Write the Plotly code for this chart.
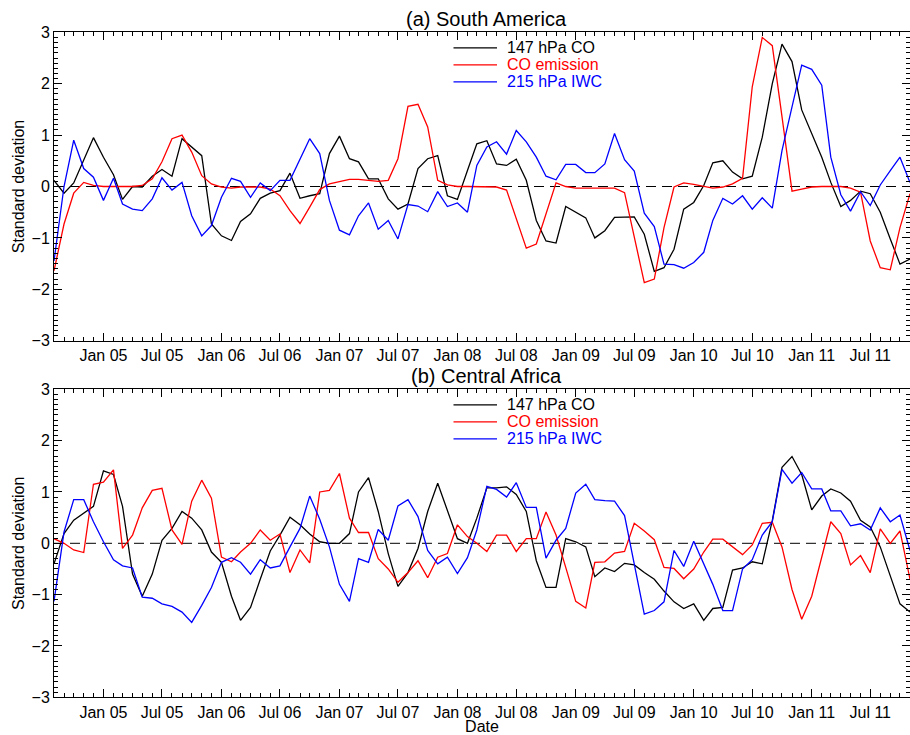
import pandas as pd
import plotly.graph_objects as go

# ---------------- data (monthly, Aug 2004 - Nov 2011) ----------------
start_month = "2004-08-01"
n_months = 88
dates = pd.date_range(start_month, periods=n_months, freq="MS")

series_names = ["147 hPa CO", "CO emission", "215 hPa IWC"]
series_colors = ["#000000", "#ff0000", "#0000ff"]

# (a) South America
sa_co147 = [0.12, -0.13, 0.07, 0.5, 0.95, 0.57, 0.23, -0.25, 0.0, -0.01, 0.2, 0.33, 0.2, 0.93, 0.77, 0.6,
            -0.73, -0.96, -1.05, -0.68, -0.53, -0.23, -0.13, -0.08, 0.26, -0.23, -0.18, -0.14, 0.64, 0.98,
            0.54, 0.48, 0.15, 0.15, -0.24, -0.44, -0.34, 0.35, 0.54, 0.6, -0.18, -0.25, 0.31, 0.83, 0.89,
            0.44, 0.41, 0.53, 0.12, -0.66, -1.06, -1.1, -0.39, -0.5, -0.61, -1.0, -0.86, -0.6, -0.59, -0.59,
            -0.93, -1.65, -1.58, -1.22, -0.44, -0.31, 0.02, 0.46, 0.5, 0.28, 0.15, 0.2, 0.96, 2.0, 2.77,
            2.43, 1.49, 1.03, 0.57, 0.08, -0.39, -0.27, -0.09, -0.14, -0.5, -1.02, -1.51, -1.41]
sa_emission = [-1.64, -0.73, -0.13, 0.08, 0.02, 0.0, 0.0, 0.0, 0.0, 0.02, 0.15, 0.48, 0.93, 1.0, 0.67, 0.21,
               0.05, -0.01, -0.03, -0.01, -0.01, -0.01, -0.05, -0.18, -0.47, -0.72, -0.4, -0.06, 0.05, 0.1,
               0.14, 0.14, 0.12, 0.1, 0.12, 0.54, 1.56, 1.6, 1.16, 0.12, 0.03, 0.0, 0.0, 0.0, 0.0, -0.01,
               -0.07, -0.63, -1.2, -1.12, -0.53, 0.07, 0.0, -0.03, -0.03, -0.03, -0.02, -0.03, -0.12, -0.99,
               -1.87, -1.8, -0.8, -0.01, 0.07, 0.04, 0.0, -0.03, -0.01, 0.05, 0.16, 1.94, 2.9, 2.74, 1.36,
               -0.09, -0.05, -0.01, 0.0, 0.0, 0.0, -0.03, -0.11, -1.06, -1.58, -1.62, -0.8, -0.14]
sa_iwc215 = [-1.45, 0.0, 0.9, 0.35, 0.18, -0.27, 0.16, -0.34, -0.44, -0.47, -0.24, 0.17, -0.07, 0.08, -0.57,
             -0.96, -0.76, -0.21, 0.16, 0.1, -0.21, 0.07, -0.08, 0.12, 0.12, 0.52, 0.93, 0.64, -0.27, -0.85,
             -0.94, -0.57, -0.32, -0.83, -0.66, -1.02, -0.35, -0.38, -0.49, -0.1, -0.39, -0.32, -0.5, 0.41,
             0.77, 0.87, 0.63, 1.09, 0.87, 0.57, 0.2, 0.13, 0.43, 0.43, 0.27, 0.27, 0.44, 1.03, 0.52, 0.3,
             -0.52, -0.78, -1.51, -1.52, -1.59, -1.48, -1.28, -0.66, -0.23, -0.34, -0.18, -0.44, -0.22, -0.42,
             0.7, 1.55, 2.36, 2.28, 1.97, 0.57, -0.16, -0.48, -0.1, -0.37, 0.03, 0.31, 0.57, 0.08]

# (b) Central Africa
ca_co147 = [-0.4, 0.19, 0.45, 0.59, 0.72, 1.41, 1.34, 0.72, -0.6, -1.03, -0.6, 0.06, 0.29, 0.62, 0.49, 0.26,
            -0.17, -0.37, -1.03, -1.5, -1.25, -0.7, -0.15, 0.16, 0.51, 0.36, 0.18, 0.03, 0.0, 0.0, 0.19, 1.0,
            1.28, 0.62, -0.2, -0.84, -0.57, -0.1, 0.62, 1.17, 0.62, 0.09, 0.0, 0.49, 1.08, 1.08, 1.1, 0.95,
            0.62, -0.34, -0.86, -0.86, 0.09, 0.03, -0.07, -0.65, -0.48, -0.55, -0.39, -0.42, -0.57, -0.7,
            -0.93, -1.14, -1.27, -1.18, -1.5, -1.27, -1.25, -0.52, -0.48, -0.36, -0.4, 0.44, 1.48, 1.69,
            1.34, 0.65, 0.92, 1.06, 0.98, 0.82, 0.45, 0.32, -0.07, -0.63, -1.18, -1.34]
ca_emission = [0.09, 0.0, -0.13, -0.18, 1.15, 1.19, 1.43, -0.1, 0.16, 0.69, 1.03, 1.07, 0.26, -0.02, 0.82,
               1.23, 0.88, -0.27, -0.36, -0.17, 0.0, 0.26, 0.06, 0.18, -0.57, -0.13, -0.38, 1.0, 1.03, 1.36,
               0.49, 0.21, 0.21, -0.3, -0.5, -0.76, -0.57, -0.34, -0.67, -0.27, -0.2, 0.36, 0.13, 0.0, -0.16,
               0.16, 0.16, -0.16, 0.09, 0.09, 0.61, 0.16, -0.47, -1.13, -1.26, -0.37, -0.36, -0.19, -0.16,
               0.39, 0.24, 0.07, -0.47, -0.49, -0.69, -0.5, -0.17, 0.08, 0.08, -0.07, -0.22, -0.03, 0.39,
               0.41, -0.07, -0.9, -1.48, -1.03, -0.27, 0.42, 0.19, -0.42, -0.24, -0.57, 0.28, 0.0, 0.24, -0.7]
ca_iwc215 = [-1.13, 0.22, 0.85, 0.85, 0.42, 0.03, -0.32, -0.44, -0.48, -1.05, -1.07, -1.18, -1.23, -1.34,
             -1.54, -1.21, -0.86, -0.37, -0.28, -0.37, -0.6, -0.32, -0.48, -0.44, -0.07, 0.29, 0.92, 0.47,
             -0.07, -0.8, -1.13, -0.3, -0.37, 0.27, 0.06, 0.73, 0.85, 0.52, -0.14, -0.4, -0.27, -0.59, -0.28,
             0.26, 1.11, 1.05, 0.9, 1.18, 0.7, 0.7, -0.29, 0.06, 0.29, 0.98, 1.15, 0.85, 0.83, 0.82, 0.54,
             -0.4, -1.38, -1.31, -1.14, -0.14, -0.45, 0.04, -0.4, -0.8, -1.31, -1.31, -0.5, -0.32, 0.16, 0.42,
             1.44, 1.17, 1.38, 1.06, 1.06, 0.63, 0.63, 0.34, 0.38, 0.26, 0.69, 0.42, 0.55, -0.14]

panel_titles = ["(a) South America", "(b) Central Africa"]
y_title = "Standard deviation"
x_title = "Date"
x_range = ["2004-08-01", "2011-11-01"]
y_range = [-3, 3]
zero_level = 0

panels = [
    [sa_co147, sa_emission, sa_iwc215],
    [ca_co147, ca_emission, ca_iwc215],
]

# ---------------- figure ----------------
FONT = "Liberation Sans, Arial, sans-serif"
W, H = 910, 735
fig = go.Figure()

PLOT_L = 54
x_dom = [PLOT_L / W, 1.0]
panel_px = [(32.3, 340.7), (389.3, 697.3)]  # (top, bottom) pixel rows of each panel box
y_doms = [[1 - b / H, 1 - t / H] for t, b in panel_px]

# legend key placement (pixels in the figure)
KEY_X0, KEY_X1, KEY_TX = 453.5, 497.0, 505.0
KEY_ROWS = [15.5, 32.5, 49.5]  # offsets below panel top
plot_w = W - PLOT_L

for p, data in enumerate(panels):
    xa = "x" if p == 0 else "x2"
    ya = "y" if p == 0 else "y2"
    top_px, bot_px = panel_px[p]
    ph = bot_px - top_px
    for k, (name, color, vals) in enumerate(zip(series_names, series_colors, data)):
        fig.add_trace(go.Scatter(
            x=dates, y=vals, mode="lines", xaxis=xa, yaxis=ya,
            line=dict(color=color, width=1.3), name=name, showlegend=False,
        ))
        # legend key: short line + coloured label
        yk = 1 - KEY_ROWS[k] / ph
        fig.add_shape(type="line", xref=f"{xa} domain", yref=f"{ya} domain",
                      x0=(KEY_X0 - PLOT_L) / plot_w, x1=(KEY_X1 - PLOT_L) / plot_w, y0=yk, y1=yk,
                      line=dict(color=color, width=1.3))
        fig.add_annotation(text=name, xref=f"{xa} domain", yref=f"{ya} domain",
                           x=(KEY_TX - PLOT_L) / plot_w, y=yk, xanchor="left", yanchor="middle",
                           showarrow=False, font=dict(family=FONT, size=16, color=color))
    fig.add_shape(type="line", xref=f"{xa} domain", yref=ya, x0=0, x1=1,
                  y0=zero_level, y1=zero_level, layer="below",
                  line=dict(color="black", width=1, dash="10px,6px"))
    fig.add_annotation(text=panel_titles[p], xref=f"{xa} domain", yref=f"{ya} domain",
                       x=0.505, y=1, yanchor="bottom", yshift=0, showarrow=False,
                       font=dict(family=FONT, size=20, color="black"))

axis_common = dict(showline=True, linecolor="black", linewidth=1, mirror="allticks",
                   ticks="inside", tickcolor="black", showgrid=False, zeroline=False,
                   automargin=True, tickfont=dict(family=FONT, size=16, color="black"))

for p in range(2):
    sfx = "" if p == 0 else "2"
    fig.layout[f"xaxis{sfx}"] = dict(
        **axis_common, domain=x_dom, anchor=f"y{sfx}", type="date", range=x_range,
        tick0="2005-01-01", dtick="M6", tickformat="%b %y", ticklen=8, ticklabelstandoff=0,
        minor=dict(dtick="M1", tick0="2004-08-01", ticklen=4, ticks="inside", tickcolor="black",
                   showgrid=False),
        title=dict(text=x_title if p == 1 else "", font=dict(family=FONT, size=16, color="black"),
                   standoff=3),
    )
    fig.layout[f"yaxis{sfx}"] = dict(
        **axis_common, domain=y_doms[p], anchor=f"x{sfx}", range=y_range, dtick=1, ticklen=8,
        minor=dict(dtick=0.1, ticklen=4, ticks="inside", tickcolor="black", showgrid=False),
        title=dict(text=y_title, font=dict(family=FONT, size=16, color="black"), standoff=2),
    )

fig.update_layout(
    width=W, height=H, margin=dict(l=0, r=0, t=0, b=0, autoexpand=False),
    paper_bgcolor="white", plot_bgcolor="white",
    font=dict(family=FONT, size=16, color="black"),
    showlegend=False,
)

fig.write_html("out.html", config={"displayModeBar": False},
               post_script="document.body.style.margin='0px';")
